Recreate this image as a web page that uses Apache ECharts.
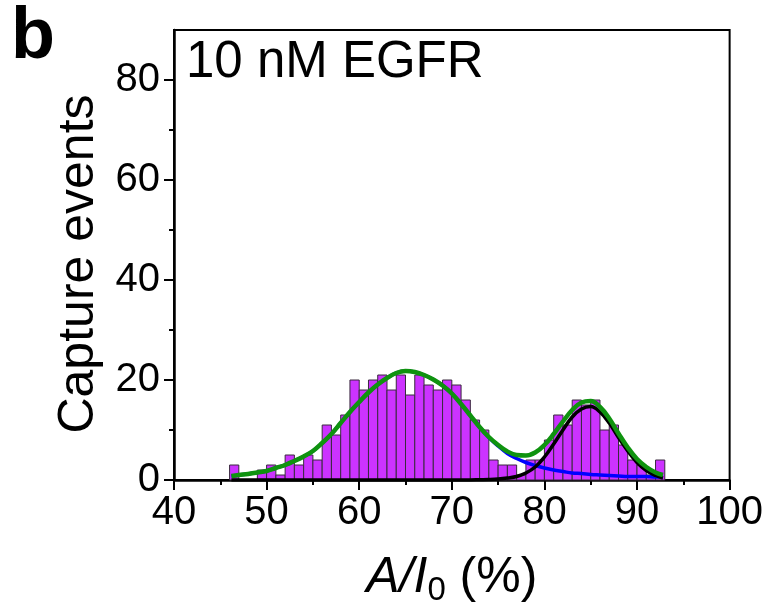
<!DOCTYPE html>
<html>
<head>
<meta charset="utf-8">
<script src="https://cdn.jsdelivr.net/npm/echarts@6/dist/echarts.min.js"></script>
<style>
html,body{margin:0;padding:0;background:#fff;}
#c{width:766px;height:613px;}
</style>
</head>
<body>
<div id="c"></div>
<script>
// Histogram bins (bin start, width 1) and counts
var binStart = [46,47,48,49,50,51,52,53,54,55,56,57,58,59,60,61,62,63,64,65,66,67,68,69,70,71,72,73,74,75,76,77,78,79,80,81,82,83,84,85,86,87,88,89,90,91,92];
var counts   = [ 3, 0, 0, 2, 3, 1, 5, 3, 5, 4,11, 9,13,20,18,20,21,18,21,17,21,19,18,20,19,16,12,10, 4, 3, 3, 1, 4, 4, 8,13,11,16,15,16,10,11, 7, 4, 3, 1, 4];

// Fit curves
var curveX = [46.2,47,48,49,50,51,52,53,54,55,56,57,58,59,60,61,62,63,64,65,66,67,68,69,70,71,72,73,74,75,76,77,78,79,80,81,82,83,84,85,86,87,88,89,90,91,92,92.8];
var greenY = [0.8,1.0,1.2,1.5,1.8,2.4,3.0,3.8,4.7,5.8,7.4,9.2,11.4,13.6,15.6,17.5,19.1,20.4,21.4,21.8,21.6,21.0,20.1,18.9,17.3,15.2,12.9,10.6,8.6,7.0,5.7,5.0,4.9,5.5,7.0,9.2,11.7,14.0,15.5,15.8,14.6,12.3,9.3,6.5,4.2,2.6,1.5,1.0];
var blueY  = [0.8,1.0,1.2,1.5,1.8,2.4,3.0,3.8,4.7,5.8,7.4,9.2,11.4,13.6,15.6,17.5,19.1,20.4,21.4,21.8,21.6,21.0,20.1,18.9,17.3,15.2,12.9,10.55,8.5,6.8,5.3,4.3,3.5,2.9,2.4,2.0,1.7,1.4,1.3,1.1,1.0,0.9,0.8,0.7,0.7,0.7,0.6,0.6];
var blackY = [0,0,0,0,0,0,0,0,0,0,0,0,0,0,0,0,0,0,0,0,0,0,0,0,0,0,0,0.05,0.1,0.2,0.4,0.7,1.4,2.6,4.6,7.2,10.0,12.6,14.2,14.7,13.6,11.4,8.5,5.8,3.5,1.9,0.9,0.4];

var xTicks = [40,50,60,70,80,90,100];
var yTicks = [0,20,40,60,80];
var yMinor = [10,30,50,70];

var FONT = 'Liberation Sans, Arial, sans-serif';

function pairs(xs, ys){ return xs.map(function(x,i){ return [x, ys[i]]; }); }
var barData = binStart.map(function(s,i){ return [s, s+1, counts[i]]; });

var chart = echarts.init(document.getElementById('c'), null, {renderer:'canvas'});
chart.setOption({
  animation:false,
  backgroundColor:'#fff',
  grid:{left:174, right:35, top:30, bottom:133, show:true, borderColor:'#000', borderWidth:2, backgroundColor:'transparent'},
  xAxis:[{
    type:'value', min:40, max:100, interval:10,
    axisLine:{show:true, lineStyle:{color:'#000', width:2.5}},
    axisTick:{show:true, length:10, inside:false, lineStyle:{color:'#000', width:2}},
    minorTick:{show:true, splitNumber:2, length:5, lineStyle:{color:'#000', width:2}},
    splitLine:{show:false},
    axisLabel:{show:true, color:'#000', fontSize:40, fontFamily:FONT, margin:13,
      customValues: xTicks},
    name:'{i|A/I}{s|0}{n| (%)}', nameLocation:'middle', nameGap:70,
    nameTextStyle:{fontFamily:FONT, color:'#000',
      rich:{
        i:{fontSize:50, fontStyle:'italic', fontFamily:FONT, color:'#000'},
        s:{fontSize:33, fontFamily:FONT, color:'#000', padding:[24,0,0,0]},
        n:{fontSize:50, fontFamily:FONT, color:'#000'}
      }}
  }],
  yAxis:[{
    type:'value', min:0, max:90, interval:10,
    axisLine:{show:true, lineStyle:{color:'#000', width:2.5}},
    axisTick:{show:true, length:10, inside:false, customValues:yTicks, lineStyle:{color:'#000', width:2}},
    splitLine:{show:false},
    axisLabel:{show:true, color:'#000', fontSize:40, fontFamily:FONT, margin:14, customValues:yTicks},
    name:'Capture events', nameLocation:'middle', nameGap:62, nameRotate:90,
    nameTextStyle:{fontSize:50, fontFamily:FONT, color:'#000', padding:[0,18,0,0]}
  },{
    type:'value', min:0, max:90, interval:10, position:'left',
    axisLine:{show:false},
    axisTick:{show:true, length:5, inside:false, customValues:yMinor, lineStyle:{color:'#000', width:2}},
    axisLabel:{show:false}, splitLine:{show:false}
  }],
  graphic:[
    {type:'text', left:11, top:2, style:{text:'b', fontSize:72, fontWeight:'bold', fontFamily:FONT, fill:'#000'}},
    {type:'text', left:186, top:37, style:{text:'10 nM EGFR', fontSize:51, fontFamily:FONT, fill:'#000'}}
  ],
  series:[
    {
      type:'custom', xAxisIndex:0, yAxisIndex:0, z:2,
      data: barData,
      encode:{x:[0,1], y:2},
      renderItem:function(params, api){
        var p0 = api.coord([api.value(0), 0]);
        var p1 = api.coord([api.value(1), api.value(2)]);
        return {type:'rect', shape:{x:p0[0], y:p1[1], width:p1[0]-p0[0], height:p0[1]-p1[1]},
          style:{fill:'#cc33ff', stroke:'#3a2a3f', lineWidth:1}};
      }
    },
    {type:'line', data:pairs(curveX, blueY), smooth:0.4, symbol:'none', z:3,
      lineStyle:{color:'#0000ff', width:3.5}},
    {type:'line', data:pairs(curveX, blackY), smooth:0.4, symbol:'none', z:4,
      lineStyle:{color:'#000000', width:3.5}},
    {type:'line', data:pairs(curveX, greenY), smooth:0.4, symbol:'none', z:5,
      lineStyle:{color:'#0f930f', width:4.5}}
  ]
});
</script>
</body>
</html>
